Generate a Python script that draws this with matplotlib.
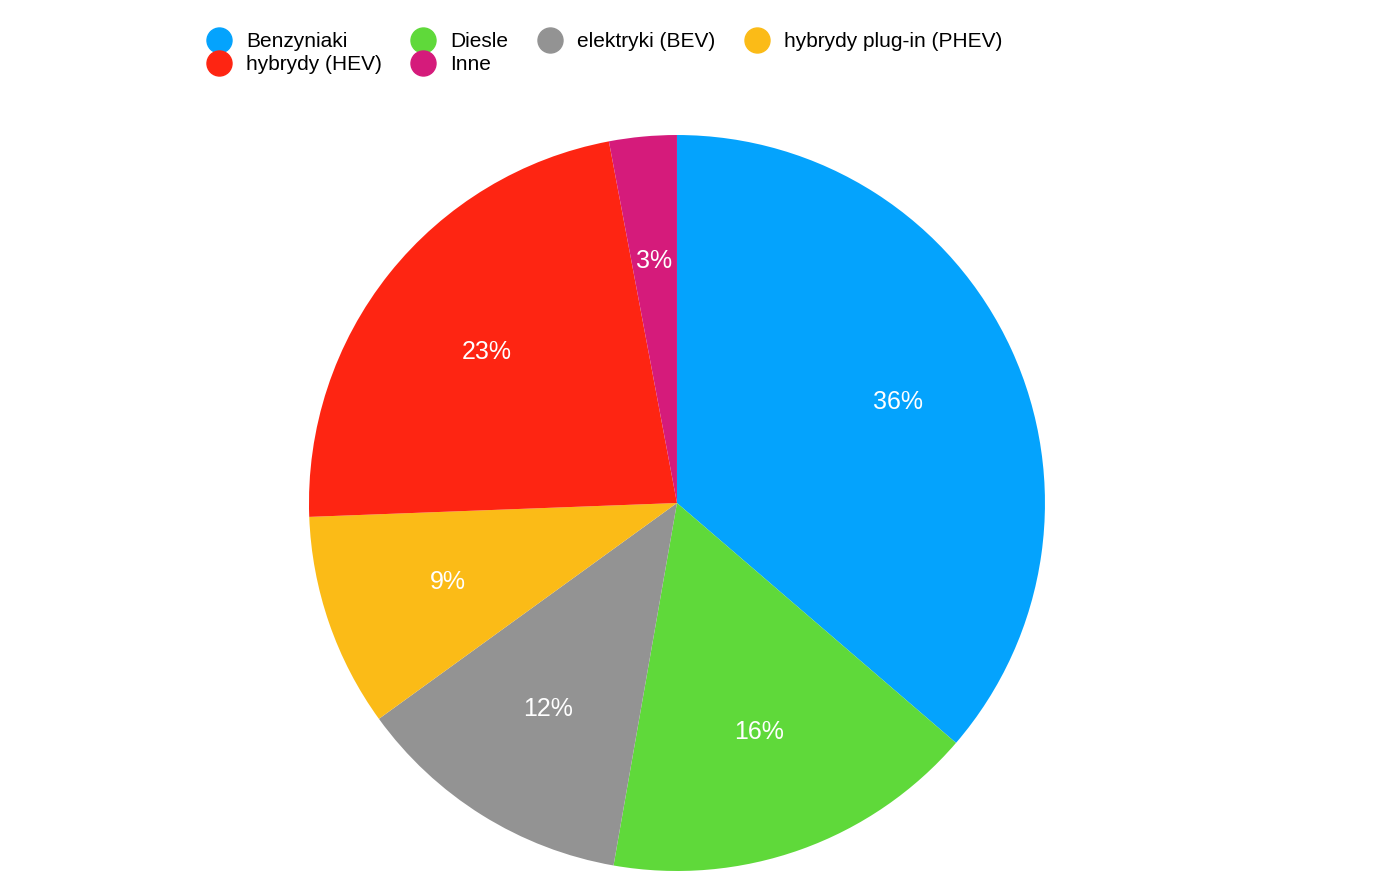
import matplotlib.pyplot as plt
from matplotlib.lines import Line2D

labels = ["Benzyniaki", "Diesle", "elektryki (BEV)", "hybrydy plug-in (PHEV)", "hybrydy (HEV)", "Inne"]
values = [36.4, 16.5, 12.3, 9.4, 22.7, 2.97]
colors = ["#04a3fd", "#5fd93a", "#939393", "#fbbb17", "#fe2512", "#d51b7b"]

plt.rcParams['font.family'] = ['Liberation Sans', 'DejaVu Sans']
fig = plt.figure(figsize=(14, 8.71), dpi=100)
ax = fig.add_axes([0.2207, 0.0, 0.5257, 0.845])
ax.pie(values, colors=colors, startangle=90, counterclock=False,
       autopct=lambda p: f"{round(p):.0f}%", pctdistance=0.66,
       textprops=dict(color="white", fontsize=18), radius=1.0)
ax.set_xlim(-1, 1); ax.set_ylim(-1, 1)
ax.set_aspect('equal')

order = [0, 4, 1, 5, 2, 3]
handles = [Line2D([], [], marker='o', linestyle='', markersize=18, color=colors[i]) for i in order]
fig.legend(handles, [labels[i] for i in order], ncol=4, loc='upper left',
           bbox_to_anchor=(0.128, 0.985), frameon=False, fontsize=15,
           handletextpad=0.3, columnspacing=1.0, labelspacing=0.2)
fig.savefig("out.png")
